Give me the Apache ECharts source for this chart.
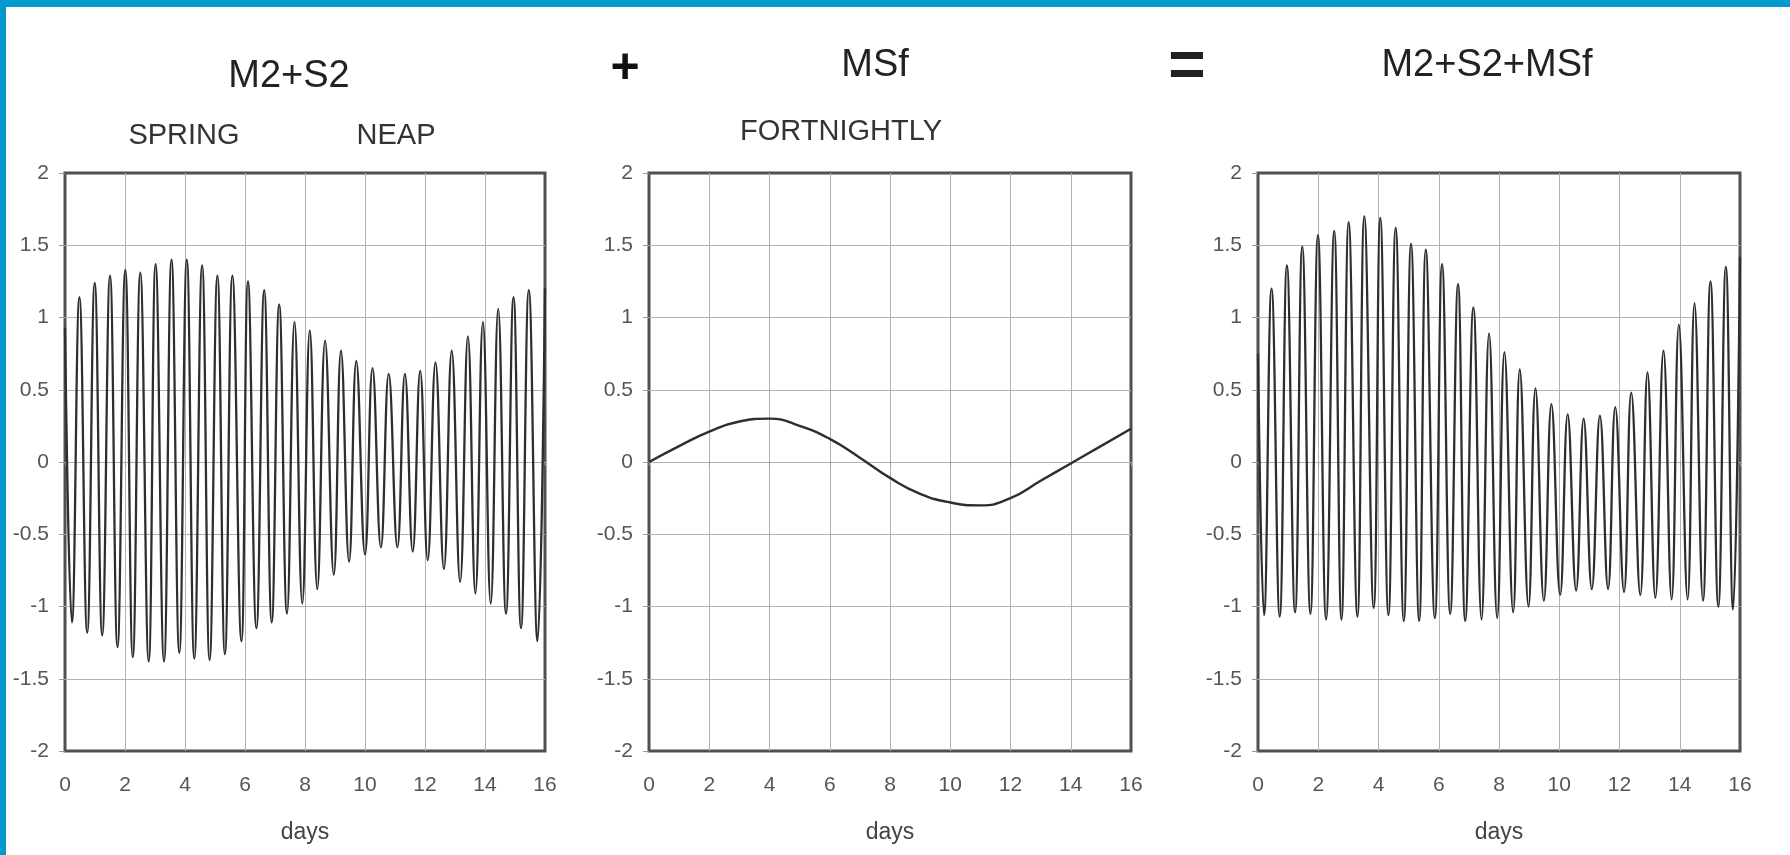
<!DOCTYPE html>
<html>
<head>
<meta charset="utf-8">
<title>M2+S2 + MSf = M2+S2+MSf</title>
<script src="https://cdn.jsdelivr.net/npm/echarts@6/dist/echarts.min.js"></script>
<style>
  html, body { margin: 0; padding: 0; background: #fff; }
  #chart { position: absolute; left: 0; top: 0; width: 1790px; height: 855px; }
  .edge { position: absolute; background: #0399cc; }
</style>
</head>
<body>
<div id="chart"></div>
<div class="edge" style="left:0;top:0;width:1790px;height:7px"></div>
<div class="edge" style="left:0;top:0;width:6px;height:855px"></div>
<script>
// tick labels
const dayTicks = [0, 2, 4, 6, 8, 10, 12, 14, 16]
const levelTicks = [-2, -1.5, -1, -0.5, 0, 0.5, 1, 1.5, 2]

// M2+S2 : high and low waters [day, level]
const m2s2Start = [0, 0.93]
const m2s2End = [16, 1.2]
const m2s2Highs = [
  [0.48, 1.14], [0.99, 1.24], [1.50, 1.29], [2.01, 1.33], [2.51, 1.31], [3.02, 1.37],
  [3.55, 1.40], [4.06, 1.40], [4.57, 1.36], [5.08, 1.29], [5.58, 1.29], [6.10, 1.25],
  [6.64, 1.19], [7.14, 1.09], [7.65, 0.97], [8.16, 0.91], [8.67, 0.84], [9.20, 0.77],
  [9.71, 0.70], [10.25, 0.65], [10.79, 0.61], [11.33, 0.61], [11.84, 0.63], [12.35, 0.69],
  [12.89, 0.77], [13.43, 0.87], [13.93, 0.97], [14.44, 1.06], [14.95, 1.14], [15.46, 1.19]
]
const m2s2Lows = [
  [0.23, -1.11], [0.74, -1.18], [1.24, -1.20], [1.75, -1.28], [2.26, -1.35], [2.79, -1.38],
  [3.30, -1.38], [3.81, -1.32], [4.31, -1.36], [4.82, -1.37], [5.33, -1.33], [5.88, -1.24],
  [6.38, -1.15], [6.89, -1.11], [7.40, -1.05], [7.91, -0.98], [8.41, -0.88], [8.96, -0.78],
  [9.47, -0.69], [10.00, -0.64], [10.53, -0.59], [11.08, -0.59], [11.59, -0.62], [12.09, -0.68],
  [12.63, -0.74], [13.17, -0.83], [13.68, -0.91], [14.19, -0.98], [14.70, -1.05], [15.20, -1.15],
  [15.75, -1.24]
]

// MSf : fortnightly level, one reading per day
const msfDays = [0, 1, 2, 3, 4, 5, 6, 7, 8, 9, 10, 11, 12, 13, 14, 15, 16]
const msfLevels = [0.0, 0.11, 0.21, 0.28, 0.30, 0.25, 0.16, 0.03, -0.11, -0.22, -0.28, -0.30, -0.25, -0.13, -0.01, 0.11, 0.23]

// M2+S2+MSf : high and low waters [day, level]
const sumStart = [0, 0.75]
const sumEnd = [16, 1.42]
const sumHighs = [
  [0.45, 1.20], [0.96, 1.36], [1.47, 1.49], [1.99, 1.57], [2.53, 1.60], [3.01, 1.66],
  [3.53, 1.70], [4.06, 1.69], [4.57, 1.62], [5.08, 1.51], [5.57, 1.47], [6.11, 1.37],
  [6.64, 1.23], [7.15, 1.07], [7.67, 0.89], [8.18, 0.76], [8.69, 0.64], [9.21, 0.51],
  [9.74, 0.40], [10.28, 0.33], [10.81, 0.30], [11.35, 0.32], [11.86, 0.38], [12.39, 0.48],
  [12.93, 0.62], [13.46, 0.77], [13.97, 0.95], [14.49, 1.10], [15.02, 1.25], [15.53, 1.35]
]
const sumLows = [
  [0.20, -1.06], [0.72, -1.07], [1.23, -1.04], [1.74, -1.05], [2.26, -1.09], [2.77, -1.09],
  [3.30, -1.07], [3.84, -1.01], [4.33, -1.06], [4.84, -1.10], [5.35, -1.10], [5.87, -1.08],
  [6.38, -1.05], [6.88, -1.10], [7.42, -1.09], [7.94, -1.08], [8.47, -1.04], [8.98, -1.00],
  [9.49, -0.96], [10.03, -0.92], [10.56, -0.89], [11.08, -0.88], [11.62, -0.88], [12.15, -0.90],
  [12.69, -0.92], [13.19, -0.94], [13.73, -0.95], [14.26, -0.95], [14.77, -0.96], [15.28, -1.00],
  [15.77, -1.02]
]

const FONT = '"Liberation Sans", Arial, Helvetica, sans-serif'

// join highs and lows into one time-ordered line
const tideLine = (start, highs, lows, end) =>
  [start, ...highs, ...lows, end].sort((a, b) => a[0] - b[0])

const panels = [
  { grid: { left: 65, top: 173, width: 480, height: 578 }, data: tideLine(m2s2Start, m2s2Highs, m2s2Lows, m2s2End), smooth: 0.45 },
  { grid: { left: 649, top: 173, width: 482, height: 578 }, data: msfDays.map((d, i) => [d, msfLevels[i]]), smooth: 0.5 },
  { grid: { left: 1258, top: 173, width: 482, height: 578 }, data: tideLine(sumStart, sumHighs, sumLows, sumEnd), smooth: 0.45 }
]

const headText = (text, x, y, font, fill) => ({
  type: 'text',
  x: x,
  y: y,
  style: {
    text: text,
    font: font,
    fill: fill,
    textAlign: 'center',
    textVerticalAlign: 'middle',
    align: 'center',
    verticalAlign: 'middle'
  }
})

const option = {
  animation: false,
  backgroundColor: '#fff',
  textStyle: { fontFamily: FONT },
  grid: panels.map(p => ({
    ...p.grid,
    show: true,
    borderColor: '#505050',
    borderWidth: 3,
    backgroundColor: 'transparent'
  })),
  xAxis: panels.map((p, i) => ({
    gridIndex: i,
    type: 'value',
    min: dayTicks[0],
    max: dayTicks[dayTicks.length - 1],
    interval: dayTicks[1] - dayTicks[0],
    name: 'days',
    nameLocation: 'middle',
    nameGap: 70,
    nameTextStyle: { fontSize: 23, color: '#444', fontFamily: FONT },
    axisLine: { show: false },
    axisTick: { show: true, length: 4, lineStyle: { color: '#999' } },
    axisLabel: { fontSize: 21, color: '#555', margin: 24, fontFamily: FONT },
    splitLine: { show: true, showMinLine: false, showMaxLine: false, lineStyle: { color: '#b2b2b2', width: 1 } }
  })),
  yAxis: panels.map((p, i) => ({
    gridIndex: i,
    type: 'value',
    min: levelTicks[0],
    max: levelTicks[levelTicks.length - 1],
    interval: levelTicks[1] - levelTicks[0],
    axisLine: { show: false },
    axisTick: { show: true, length: 6, lineStyle: { color: '#999' } },
    axisLabel: { fontSize: 21, color: '#555', margin: 16, padding: [7, 0, 0, 0], fontFamily: FONT },
    splitLine: { show: true, showMinLine: false, showMaxLine: false, lineStyle: { color: '#b2b2b2', width: 1 } }
  })),
  series: panels.map((p, i) => ({
    type: 'line',
    xAxisIndex: i,
    yAxisIndex: i,
    data: p.data,
    smooth: p.smooth,
    showSymbol: false,
    lineStyle: { color: '#2e2e2e', width: i === 1 ? 2.4 : 2.3 },
    z: 5
  })),
  graphic: [
    headText('M2+S2', 289, 77, '38px ' + FONT, '#222'),
    headText('SPRING', 184, 136, '29px ' + FONT, '#333'),
    headText('NEAP', 396, 136, '29px ' + FONT, '#333'),
    headText('+', 625, 69, 'bold 50px ' + FONT, '#111'),
    headText('MSf', 875, 66, '38px ' + FONT, '#222'),
    headText('FORTNIGHTLY', 841, 132, '29px ' + FONT, '#333'),
    headText('=', 1187, 68, 'bold 64px ' + FONT, '#222'),
    headText('M2+S2+MSf', 1487, 66, '38px ' + FONT, '#222')
  ]
}

const chart = echarts.init(document.getElementById('chart'))
chart.setOption(option)
</script>
</body>
</html>
